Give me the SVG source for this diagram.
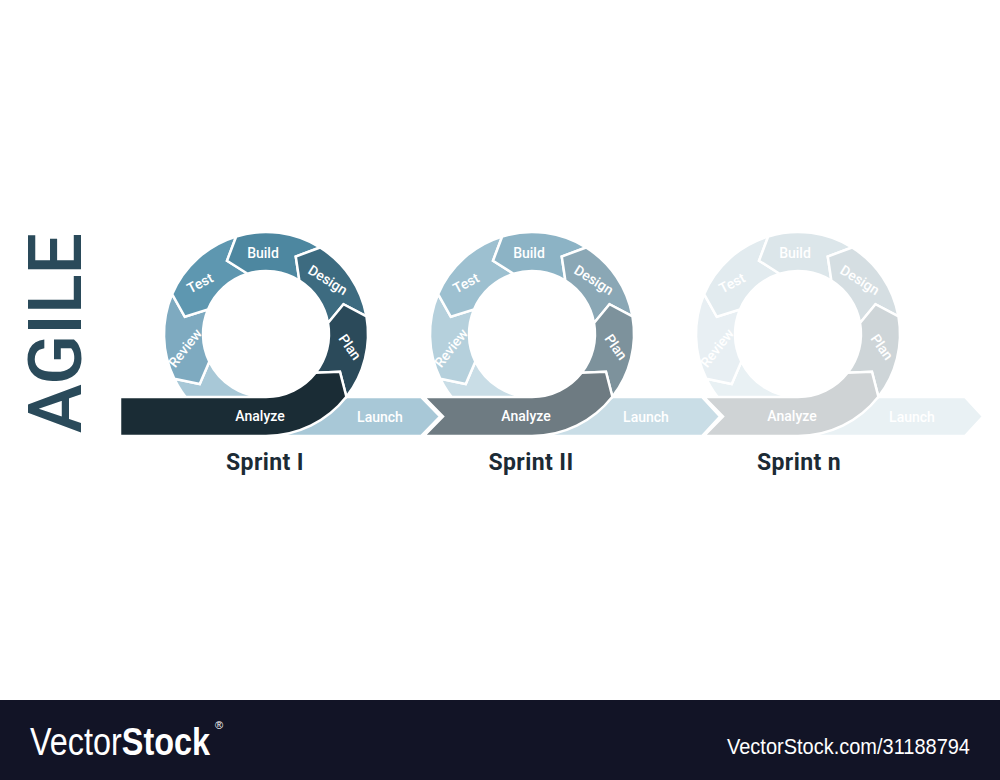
<svg xmlns="http://www.w3.org/2000/svg" xmlns:xlink="http://www.w3.org/1999/xlink" width="1000" height="780" viewBox="0 0 1000 780">
<style>
.seg{stroke:#ffffff;stroke-width:2.5;stroke-linejoin:miter}
.lbl{font-family:Roboto,"Liberation Sans",sans-serif;font-weight:500;font-size:14px;fill:#ffffff;text-anchor:middle}
.sprint{font-family:Roboto,"Liberation Sans",sans-serif;font-weight:700;font-size:23px;letter-spacing:0.4px;fill:#1c2b35;text-anchor:middle}
.foot{font-family:'Liberation Sans',Arial,sans-serif;fill:#ffffff}
</style>
<defs>
<path id="plan" d="M80.38,62.8 L73.95,37.68 L49.64,38.79 A63,63 0 0 0 62.04,-10.94 L77.49,-29.75 L100.45,-17.71 A102,102 0 0 1 80.38,62.8 Z"/>
<path id="design" d="M100.45,-17.71 L77.49,-29.75 L62.04,-10.94 A63,63 0 0 0 33.38,-53.42 L29.75,-77.49 L54.05,-86.5 A102,102 0 0 1 100.45,-17.71 Z"/>
<path id="build" d="M54.05,-86.5 L29.75,-77.49 L33.38,-53.42 A63,63 0 0 0 -18.42,-60.25 L-38.97,-73.28 L-29.82,-97.54 A102,102 0 0 1 54.05,-86.5 Z"/>
<path id="test" d="M-29.82,-97.54 L-38.97,-73.28 L-18.42,-60.25 A63,63 0 0 0 -57.99,-24.61 L-81.18,-17.26 L-93.89,-39.85 A102,102 0 0 1 -29.82,-97.54 Z"/>
<path id="review" d="M-93.89,-39.85 L-81.18,-17.26 L-57.99,-24.61 A63,63 0 0 0 -56.62,27.62 L-66.28,49.95 L-91.68,44.72 A102,102 0 0 1 -93.89,-39.85 Z"/>
</defs>
<rect width="1000" height="780" fill="#ffffff"/>

<g id="title">
<text transform="translate(81,433) rotate(-90)" font-family="Roboto,'Liberation Sans',sans-serif" font-weight="500" font-size="75" fill="#2a4a5a" textLength="200" lengthAdjust="spacingAndGlyphs">AGILE</text>
</g>

<g id="sprint1" transform="translate(266,334)">
<g id="s1-launch"><path class="seg" fill="#a8c8d7" d="M-91.68,44.72 L-66.28,49.95 L-56.62,27.62 A63,63 0 0 0 0,63 L155,63 L174,82.5 L155,102 L0,102 A102,102 0 0 1 -91.68,44.72 Z"/><text class="lbl" x="114" y="83" dy="0.35em">Launch</text></g>
<g id="s1-review"><use xlink:href="#review" class="seg" fill="#7eaac0"/><text class="lbl" transform="translate(-81,14) rotate(-52)" dy="0.35em">Review</text></g>
<g id="s1-test"><use xlink:href="#test" class="seg" fill="#5e97b0"/><text class="lbl" transform="translate(-66,-51) rotate(-28)" dy="0.35em">Test</text></g>
<g id="s1-build"><use xlink:href="#build" class="seg" fill="#4d87a0"/><text class="lbl" transform="translate(-3,-81)" dy="0.35em">Build</text></g>
<g id="s1-design"><use xlink:href="#design" class="seg" fill="#3d6b80"/><text class="lbl" transform="translate(62,-54) rotate(32)" dy="0.35em">Design</text></g>
<g id="s1-plan"><use xlink:href="#plan" class="seg" fill="#2b4a5a"/><text class="lbl" transform="translate(84,13) rotate(55)" dy="0.35em">Plan</text></g>
<g id="s1-analyze"><path class="seg" fill="#1a2c35" d="M-146,63 L0,63 A63,63 0 0 0 49.64,38.79 L73.95,37.68 L80.38,62.8 A102,102 0 0 1 0,102 L-146,102 Z"/><text class="lbl" x="-6" y="82" dy="0.35em">Analyze</text></g>
</g>

<g id="sprint2" transform="translate(532,334)">
<g id="s2-launch"><path class="seg" fill="#c9dde6" d="M-91.68,44.72 L-66.28,49.95 L-56.62,27.62 A63,63 0 0 0 0,63 L170,63 L188,82.5 L170,102 L0,102 A102,102 0 0 1 -91.68,44.72 Z"/><text class="lbl" x="114" y="83" dy="0.35em">Launch</text></g>
<g id="s2-review"><use xlink:href="#review" class="seg" fill="#b5d0dc"/><text class="lbl" transform="translate(-81,14) rotate(-52)" dy="0.35em">Review</text></g>
<g id="s2-test"><use xlink:href="#test" class="seg" fill="#9dc0d0"/><text class="lbl" transform="translate(-66,-51) rotate(-28)" dy="0.35em">Test</text></g>
<g id="s2-build"><use xlink:href="#build" class="seg" fill="#8cb3c5"/><text class="lbl" transform="translate(-3,-81)" dy="0.35em">Build</text></g>
<g id="s2-design"><use xlink:href="#design" class="seg" fill="#8aa7b5"/><text class="lbl" transform="translate(62,-54) rotate(32)" dy="0.35em">Design</text></g>
<g id="s2-plan"><use xlink:href="#plan" class="seg" fill="#7d929c"/><text class="lbl" transform="translate(84,13) rotate(55)" dy="0.35em">Plan</text></g>
<g id="s2-analyze"><path class="seg" fill="#6e7b82" d="M-108,63 L0,63 A63,63 0 0 0 49.64,38.79 L73.95,37.68 L80.38,62.8 A102,102 0 0 1 0,102 L-108,102 L-89,82.5 Z"/><text class="lbl" x="-6" y="82" dy="0.35em">Analyze</text></g>
</g>

<g id="sprint3" transform="translate(798,334)">
<g id="s3-launch"><path class="seg" fill="#e9f1f4" d="M-91.68,44.72 L-66.28,49.95 L-56.62,27.62 A63,63 0 0 0 0,63 L167,63 L185,82.5 L167,102 L0,102 A102,102 0 0 1 -91.68,44.72 Z"/><text class="lbl" x="114" y="83" dy="0.35em">Launch</text></g>
<g id="s3-review"><use xlink:href="#review" class="seg" fill="#e8eff3"/><text class="lbl" transform="translate(-81,14) rotate(-52)" dy="0.35em">Review</text></g>
<g id="s3-test"><use xlink:href="#test" class="seg" fill="#e2ebef"/><text class="lbl" transform="translate(-66,-51) rotate(-28)" dy="0.35em">Test</text></g>
<g id="s3-build"><use xlink:href="#build" class="seg" fill="#dce6ea"/><text class="lbl" transform="translate(-3,-81)" dy="0.35em">Build</text></g>
<g id="s3-design"><use xlink:href="#design" class="seg" fill="#d5dee2"/><text class="lbl" transform="translate(62,-54) rotate(32)" dy="0.35em">Design</text></g>
<g id="s3-plan"><use xlink:href="#plan" class="seg" fill="#ced5d8"/><text class="lbl" transform="translate(84,13) rotate(55)" dy="0.35em">Plan</text></g>
<g id="s3-analyze"><path class="seg" fill="#cfd3d5" d="M-94,63 L0,63 A63,63 0 0 0 49.64,38.79 L73.95,37.68 L80.38,62.8 A102,102 0 0 1 0,102 L-94,102 L-75,82.5 Z"/><text class="lbl" x="-6" y="82" dy="0.35em">Analyze</text></g>
</g>

<g id="labels">
<text class="sprint" x="265" y="470">Sprint I</text>
<text class="sprint" x="531" y="470">Sprint II</text>
<text class="sprint" x="799" y="470">Sprint n</text>
</g>

<g id="footer">
<rect x="0" y="700" width="1000" height="80" fill="#121426"/>
<text class="foot" x="30" y="755" font-size="38" textLength="180" lengthAdjust="spacingAndGlyphs"><tspan font-weight="400">Vector</tspan><tspan font-weight="700">Stock</tspan></text>
<text class="foot" x="215" y="729" font-size="11">®</text>
<text class="foot" x="970" y="754" font-size="22" text-anchor="end" textLength="243" lengthAdjust="spacingAndGlyphs">VectorStock.com/31188794</text>
</g>
</svg>
